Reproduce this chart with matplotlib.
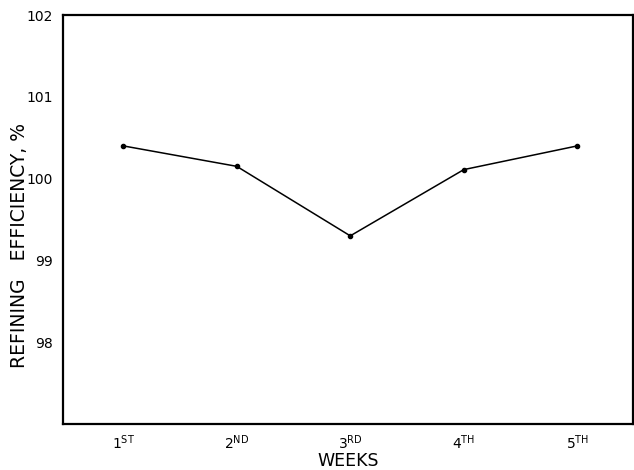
import matplotlib
matplotlib.use("Agg")
import matplotlib.pyplot as plt

weeks = [1, 2, 3, 4, 5]
week_labels = [r"1$^{\mathsf{ST}}$", r"2$^{\mathsf{ND}}$", r"3$^{\mathsf{RD}}$",
               r"4$^{\mathsf{TH}}$", r"5$^{\mathsf{TH}}$"]
efficiency = [100.40, 100.15, 99.30, 100.11, 100.40]
y_ticks = [98, 99, 100, 101, 102]

plt.rcParams['mathtext.fontset'] = 'dejavusans'
W, H = 634, 470
fig = plt.figure(figsize=(W / 100, H / 100), dpi=100)
ax = fig.add_axes([63 / W, 46 / H, 570 / W, 409 / H])

ax.plot(weeks, efficiency, color='black', linewidth=1.1, marker='o', markersize=3)

ax.set_xlim(0.47, 5.49)
ax.set_ylim(97.0, 102.0)
ax.set_xticks(weeks)
ax.set_xticklabels(week_labels, fontsize=10)
ax.set_yticks(y_ticks)
ax.set_yticklabels([str(v) for v in y_ticks], fontsize=10)
ax.tick_params(length=0, pad=7)

for s in ax.spines.values():
    s.set_linewidth(1.6)

fig.text(348 / W, 1 - 461 / H, "WEEKS", fontsize=12.5, ha='center', va='center')
fig.text(20 / W, 1 - 246 / H, "REFINING   EFFICIENCY, %", fontsize=13.5,
         ha='center', va='center', rotation=90)

fig.savefig("out.png", dpi=100)
